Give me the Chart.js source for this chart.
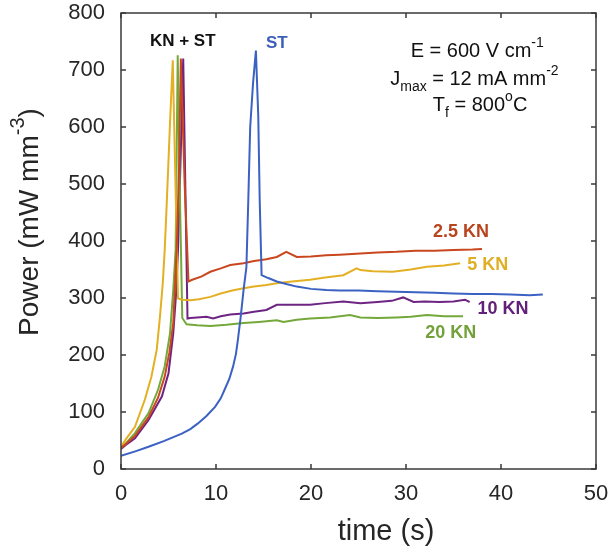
<!DOCTYPE html>
<html>
<head>
<meta charset="utf-8">
<script src="https://cdn.jsdelivr.net/npm/chart.js@4"></script>
<style>
  body { margin: 0; background: #fff; }
  canvas { display: block; }
</style>
</head>
<body>
<canvas id="powerChart" width="610" height="547"></canvas>
<script>
// time (s) / power (mW mm^-3)
const timeST  = [0, 1.5, 2.9, 4.5, 6.4, 7.3, 8.1, 9.0, 9.9, 10.5, 10.9, 11.4, 11.8, 12.1, 12.3, 12.6, 12.9, 13.2, 13.4, 13.6, 13.9, 14.2, 14.45, 14.6, 14.8, 15.5, 16.4, 17.5, 18.5, 20, 21.6, 23, 25, 27, 29, 31, 33, 35, 37, 39, 41, 43, 44.4];
const powerST = [23, 31, 39, 49, 62, 70, 80, 93, 109, 124, 139, 158, 180, 202, 226, 267, 314, 354, 472, 600, 677, 734, 618, 472, 340, 335, 329, 324, 320, 316, 314, 313, 313, 312, 311, 310, 309, 308, 307, 307, 306, 305, 306];

const time25  = [0, 0.5, 1.47, 2.9, 3.9, 4.6, 5.1, 5.5, 5.86, 6.1, 6.3, 6.7, 7.1, 7.5, 8.5, 9.4, 10.5, 11.5, 12.9, 14, 15.3, 16.4, 17.4, 18.5, 20, 21.6, 23, 25.2, 27, 29, 31, 33, 35, 37, 38];
const power25 = [37, 44, 58, 91, 125, 162, 205, 256, 384, 520, 720, 500, 329, 332, 338, 346, 352, 358, 361, 365, 368, 372, 381, 372, 373, 375, 376, 378, 380, 381, 383, 383, 384, 385, 386];

const time5  = [0, 0.5, 1.47, 2.5, 3.2, 3.76, 4.1, 4.4, 4.6, 4.8, 5.16, 5.45, 6.0, 6.5, 7.3, 8.2, 9.4, 10.5, 11.7, 12.9, 14, 15.3, 16.4, 18, 19.9, 21.5, 23.4, 24.8, 25.2, 26.5, 28.6, 30.5, 32.2, 34, 35.7];
const power5 = [39, 52, 74, 121, 162, 209, 267, 326, 384, 460, 607, 717, 299, 297, 296, 298, 302, 308, 313, 317, 320, 323, 326, 329, 332, 336, 340, 352, 349, 347, 346, 350, 355, 357, 361];

const time10  = [0, 0.5, 1.47, 2.9, 4.3, 5.0, 5.5, 5.8, 6.0, 6.3, 6.55, 7.0, 7.3, 8, 9, 9.7, 10.5, 11.5, 12.9, 14, 15.3, 16.4, 18, 19.9, 21.5, 23.4, 25.2, 27, 28.5, 29.7, 30.8, 32, 33.5, 35, 36.2, 36.7];
const power10 = [35, 42, 54, 86, 127, 168, 238, 308, 384, 560, 720, 264, 265, 266, 267, 264, 268, 271, 273, 276, 279, 288, 288, 288, 291, 294, 291, 293, 295, 301, 293, 294, 293, 294, 297, 293];

const time20  = [0, 0.5, 1.47, 2.9, 3.9, 4.6, 5.16, 5.5, 5.75, 5.97, 6.2, 6.45, 6.9, 8, 9.4, 11.1, 12.9, 14.5, 16.4, 17.1, 18.5, 19.9, 22, 24.1, 25.2, 27, 29, 30.5, 32.2, 34, 36];
const power20 = [37, 45, 63, 98, 139, 180, 238, 314, 384, 726, 480, 265, 254, 252, 251, 253, 256, 258, 261, 258, 262, 264, 266, 270, 266, 265, 266, 267, 270, 268, 268];

const xTicks = [0, 10, 20, 30, 40, 50];
const yTicks = [0, 100, 200, 300, 400, 500, 600, 700, 800];

const FONT = '"Liberation Sans", Arial, Helvetica, sans-serif';
const AXIS = '#3a3a3a';

function pts(t, p) {
  return t.map((v, i) => ({ x: v, y: p[i] }));
}

function series(label, t, p, color) {
  return {
    label: label,
    data: pts(t, p),
    borderColor: color,
    borderWidth: 2,
    pointRadius: 0,
    tension: 0,
    fill: false
  };
}

// rich text: parts = [[text, 0 normal | 1 sup | -1 sub], ...]
function drawRich(ctx, parts, cx, cy, size, weight, color) {
  const small = Math.round(size * 0.72);
  let total = 0;
  const widths = parts.map(([txt, k]) => {
    ctx.font = weight + ' ' + (k ? small : size) + 'px ' + FONT;
    const w = ctx.measureText(txt).width;
    total += w;
    return w;
  });
  let x = cx - total / 2;
  ctx.fillStyle = color;
  ctx.textBaseline = 'middle';
  ctx.textAlign = 'left';
  parts.forEach(([txt, k], i) => {
    ctx.font = weight + ' ' + (k ? small : size) + 'px ' + FONT;
    const dy = k === 1 ? -size * 0.42 : (k === -1 ? size * 0.38 : 0);
    ctx.fillText(txt, x, cy + dy);
    x += widths[i];
  });
}

const frame = {
  id: 'frame',
  afterDraw(chart) {
    const { ctx, chartArea: a, scales } = chart;
    const sx = scales.x, sy = scales.y;
    ctx.save();
    ctx.strokeStyle = AXIS;
    ctx.lineWidth = 1.5;
    ctx.strokeRect(a.left, a.top, a.right - a.left, a.bottom - a.top);
    ctx.beginPath();
    xTicks.forEach(v => {
      const px = sx.getPixelForValue(v);
      ctx.moveTo(px, a.bottom); ctx.lineTo(px, a.bottom - 5);
      ctx.moveTo(px, a.top); ctx.lineTo(px, a.top + 5);
    });
    yTicks.forEach(v => {
      const py = sy.getPixelForValue(v);
      ctx.moveTo(a.left, py); ctx.lineTo(a.left + 5, py);
      ctx.moveTo(a.right, py); ctx.lineTo(a.right - 5, py);
    });
    ctx.stroke();

    // axis titles
    drawRich(ctx, [['time (s)', 0]], 386, 532, 29, 'normal', '#262626');
    ctx.save();
    ctx.translate(30, 222);
    ctx.rotate(-Math.PI / 2);
    drawRich(ctx, [['Power (mW mm', 0], ['-3', 1], [')', 0]], 0, 0, 28, 'normal', '#262626');
    ctx.restore();

    // annotations (data coordinates)
    const at = (x, y) => [sx.getPixelForValue(x), sy.getPixelForValue(y)];
    let p;
    p = at(6.5, 751);  drawRich(ctx, [['KN + ST', 0]], p[0], p[1], 17, 'bold', '#111');
    p = at(16.4, 746); drawRich(ctx, [['ST', 0]], p[0], p[1], 17, 'bold', '#3B5EB9');
    p = at(35.8, 416); drawRich(ctx, [['2.5 KN', 0]], p[0], p[1], 18, 'bold', '#B8441D');
    p = at(38.6, 358); drawRich(ctx, [['5 KN', 0]], p[0], p[1], 18, 'bold', '#E0AE25');
    p = at(40.2, 281); drawRich(ctx, [['10 KN', 0]], p[0], p[1], 18, 'bold', '#63207A');
    p = at(34.7, 239); drawRich(ctx, [['20 KN', 0]], p[0], p[1], 18, 'bold', '#72A13A');

    p = at(37.5, 732);
    drawRich(ctx, [['E = 600 V cm', 0], ['-1', 1]], p[0], p[1], 20, 'normal', '#111');
    p = at(37.2, 684);
    drawRich(ctx, [['J', 0], ['max', -1], [' = 12 mA mm', 0], ['-2', 1]], p[0], p[1], 20, 'normal', '#111');
    p = at(37.8, 637);
    drawRich(ctx, [['T', 0], ['f', -1], [' = 800', 0], ['o', 1], ['C', 0]], p[0], p[1], 20, 'normal', '#111');
    ctx.restore();
  }
};

new Chart(document.getElementById('powerChart'), {
  type: 'line',
  data: {
    datasets: [
      series('ST', timeST, powerST, '#3B61C2'),
      series('2.5 KN', time25, power25, '#C9471E'),
      series('5 KN', time5, power5, '#E3B024'),
      series('20 KN', time20, power20, '#74A83A'),
      series('10 KN', time10, power10, '#6E2482')
    ]
  },
  options: {
    responsive: false,
    animation: false,
    layout: { padding: { top: 13, right: 14, left: 0, bottom: 0 } },
    plugins: {
      legend: { display: false },
      tooltip: { enabled: false }
    },
    scales: {
      x: {
        type: 'linear',
        min: 0,
        max: 50,
        afterBuildTicks: s => { s.ticks = xTicks.map(v => ({ value: v })); },
        afterFit: s => {
          s.height = 78;
          s.paddingLeft = 0; s.paddingRight = 0;
        },
        grid: { display: false, drawTicks: false },
        border: { display: false },
        ticks: { padding: 12, color: '#262626', font: { family: FONT, size: 22 }, maxRotation: 0 }
      },
      y: {
        type: 'linear',
        min: 0,
        max: 800,
        afterBuildTicks: s => { s.ticks = yTicks.map(v => ({ value: v })); },
        afterFit: s => {
          s.width = 121;
          s.paddingTop = 0; s.paddingBottom = 0;
        },
        grid: { display: false, drawTicks: false },
        border: { display: false },
        ticks: { padding: 16, color: '#262626', font: { family: FONT, size: 22 } }
      }
    }
  },
  plugins: [frame]
});
</script>
</body>
</html>
